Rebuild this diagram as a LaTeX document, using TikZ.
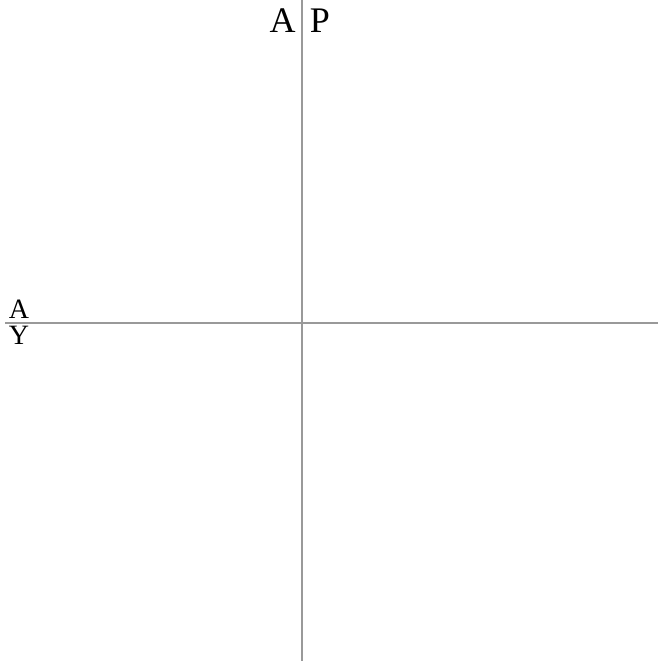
\documentclass[tikz,border=0pt]{standalone}
\usepackage{fontspec}
\setmainfont{Liberation Serif}
\definecolor{axisgray}{HTML}{999999}
\begin{document}
\begin{tikzpicture}[x=0.75pt, y=-0.75pt]
\useasboundingbox (0,0) rectangle (658,667);

% Axis end points
\coordinate (topend) at (302,0);
\coordinate (bottomend) at (302,661);
\coordinate (leftend) at (5,323);
\coordinate (rightend) at (658,323);

% Axes
\draw[line width=0.8pt, color=axisgray] (topend) -- (bottomend);
\draw[line width=0.8pt, color=axisgray] (leftend) -- (rightend);

% Labels at the top
\node[anchor=base, font=\fontsize{27}{32}\selectfont, inner sep=0pt] (topleft) at (282.5,33) {A};
\node[anchor=base, font=\fontsize{27}{32}\selectfont, inner sep=0pt] (topright) at (320,33) {P};

% Labels at the left
\node[anchor=base, font=\fontsize{21}{25}\selectfont, inner sep=0pt] (leftabove) at (19,318) {A};
\node[anchor=base, font=\fontsize{21}{25}\selectfont, inner sep=0pt] (leftbelow) at (19,344) {Y};

\end{tikzpicture}
\end{document}
